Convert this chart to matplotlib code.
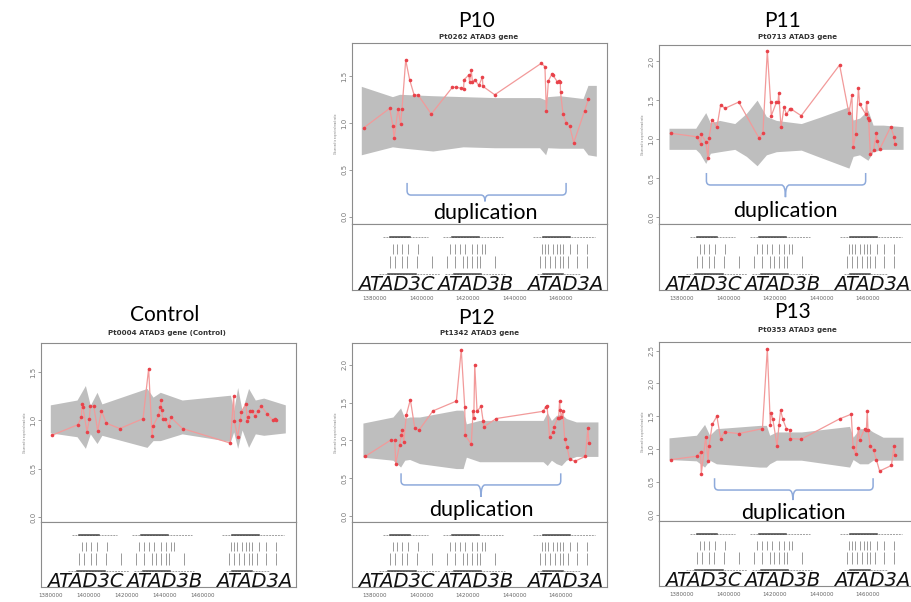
import numpy as np
import matplotlib.pyplot as plt
from matplotlib.path import Path
from matplotlib.patches import PathPatch
from matplotlib.transforms import blended_transform_factory

# genomic positions are in kb
p10_x = [1375.3, 1386.3, 1387.7, 1388.2, 1389.9, 1391.0, 1391.6, 1393.2, 1394.9, 1396.8, 1398.6, 1404.2,
         1413.3, 1414.7, 1417.1, 1418.1, 1418.3, 1420.3, 1420.7, 1421.4, 1421.9, 1422.9, 1424.7, 1426.2,
         1426.4, 1431.5, 1451.5, 1453.1, 1453.7, 1454.6, 1456.1, 1456.5, 1458.4, 1459.0, 1459.7, 1459.8,
         1460.9, 1462.3, 1463.7, 1465.5, 1470.2, 1471.8]
p10_y = [0.95, 1.155, 0.967, 0.835, 1.148, 0.99, 1.145, 1.67, 1.46, 1.30, 1.295, 1.095,
         1.38, 1.38, 1.37, 1.36, 1.46, 1.51, 1.44, 1.56, 1.44, 1.46, 1.40, 1.49,
         1.39, 1.30, 1.635, 1.60, 1.13, 1.45, 1.52, 1.51, 1.44, 1.45, 1.44, 1.33,
         1.09, 1.00, 0.967, 0.79, 1.13, 1.255]
p10_band_x = [1374.1, 1387.5, 1390.6, 1404.9, 1417.9, 1431.5, 1450.8, 1453.4, 1454.3, 1459.4, 1469.5, 1471.6, 1475.2]
p10_band_hi = [1.39, 1.28, 1.305, 1.29, 1.28, 1.27, 1.27, 1.245, 1.28, 1.29, 1.26, 1.40, 1.40]
p10_band_lo = [0.66, 0.745, 0.735, 0.70, 0.745, 0.735, 0.735, 0.66, 0.735, 0.73, 0.73, 0.66, 0.645]

p11_x = [1375.4, 1386.6, 1388.0, 1388.3, 1390.2, 1391.2, 1391.6, 1393.0, 1395.0, 1396.6, 1398.5, 1404.4,
         1413.1, 1414.8, 1416.7, 1418.1, 1418.4, 1420.6, 1421.3, 1421.6, 1422.6, 1423.9, 1424.9, 1426.3,
         1426.7, 1431.3, 1447.8, 1451.8, 1453.1, 1453.6, 1454.7, 1455.9, 1456.4, 1459.0, 1459.4, 1459.9,
         1460.3, 1461.0, 1462.4, 1463.6, 1463.8, 1465.0, 1469.8, 1471.2, 1471.5]
p11_y = [1.075, 1.03, 0.94, 1.06, 0.97, 0.755, 1.02, 1.25, 1.15, 1.44, 1.395, 1.475,
         1.015, 1.075, 2.13, 1.48, 1.30, 1.47, 1.47, 1.59, 1.15, 1.41, 1.32, 1.38,
         1.39, 1.30, 1.95, 1.33, 1.565, 0.90, 1.065, 1.66, 1.45, 1.32, 1.48, 1.27,
         1.24, 0.81, 0.86, 1.08, 0.98, 0.87, 1.16, 1.03, 0.94]
p11_band_x = [1374.4, 1385.9, 1387.6, 1390.2, 1392.2, 1396.2, 1402.7, 1407.7, 1412.3, 1416.3, 1420.6,
              1431.3, 1439.2, 1451.8, 1453.6, 1456.4, 1460.0, 1462.2, 1466.5, 1475.1]
p11_band_hi = [1.14, 1.14, 1.22, 1.34, 1.21, 1.24, 1.20, 1.33, 1.50, 1.29, 1.24,
               1.20, 1.28, 1.415, 1.245, 1.27, 1.37, 1.18, 1.18, 1.16]
p11_band_lo = [0.87, 0.87, 0.82, 0.69, 0.82, 0.84, 0.87, 0.78, 0.66, 0.80, 0.84,
               0.86, 0.77, 0.63, 0.78, 0.80, 0.73, 0.84, 0.87, 0.87]

ctrl_x = [1374.8, 1386.0, 1387.5, 1387.7, 1388.1, 1389.9, 1390.9, 1391.3, 1392.8, 1394.5, 1396.1, 1398.2,
          1404.0, 1414.0, 1416.4, 1417.9, 1418.3, 1420.6, 1421.4, 1421.7, 1422.0, 1422.4, 1423.5, 1425.0,
          1426.0, 1431.0, 1451.5, 1453.0, 1453.3, 1454.7, 1455.9, 1456.2, 1458.3, 1458.8, 1459.2, 1460.2,
          1460.9, 1462.3, 1463.3, 1464.9, 1467.3, 1469.8, 1470.9, 1471.2]
ctrl_y = [0.845, 0.955, 1.035, 1.165, 1.14, 0.88, 1.017, 1.145, 1.145, 0.89, 1.10, 0.97,
          0.915, 1.017, 1.535, 0.835, 0.94, 1.05, 1.14, 1.21, 1.11, 1.017, 1.017, 0.94,
          1.03, 0.915, 0.765, 1.25, 0.99, 0.83, 1.007, 1.085, 1.17, 0.99, 1.03, 1.095,
          1.095, 1.04, 1.095, 1.145, 1.07, 1.00, 1.017, 1.007]
ctrl_band_x = [1374.1, 1385.6, 1389.2, 1391.3, 1394.2, 1396.3, 1415.7, 1418.3, 1421.4, 1430.8, 1451.6,
               1453.0, 1454.7, 1456.6, 1459.4, 1462.3, 1465.9, 1475.2]
ctrl_band_hi = [1.16, 1.21, 1.36, 1.155, 1.29, 1.17, 1.33, 1.24, 1.29, 1.21, 1.26,
                1.10, 1.34, 1.10, 1.33, 1.21, 1.23, 1.16]
ctrl_band_lo = [0.87, 0.83, 0.71, 0.86, 0.76, 0.845, 0.72, 0.79, 0.79, 0.86, 0.78,
                0.88, 0.71, 0.90, 0.72, 0.86, 0.845, 0.87]

p12_x = [1375.8, 1387.0, 1388.5, 1388.9, 1390.6, 1391.3, 1391.8, 1392.3, 1393.5, 1395.2, 1397.1, 1398.9,
         1404.9, 1415.0, 1417.1, 1418.6, 1418.8, 1421.4, 1422.2, 1422.5, 1422.9, 1423.9, 1425.6, 1426.5,
         1426.8, 1432.2, 1452.3, 1453.4, 1454.0, 1455.1, 1456.6, 1457.0, 1458.7, 1459.0, 1459.4, 1459.7,
         1460.1, 1460.8, 1461.6, 1462.6, 1463.7, 1465.9, 1470.5, 1471.6, 1472.0]
p12_y = [0.79, 1.01, 1.00, 0.695, 0.945, 1.07, 1.14, 0.98, 1.34, 1.54, 1.165, 1.135,
         1.39, 1.52, 2.20, 1.44, 1.07, 0.95, 1.39, 1.30, 2.00, 1.385, 1.45, 1.26,
         1.18, 1.29, 1.385, 1.44, 1.46, 1.045, 1.11, 1.18, 1.30, 1.30, 1.52, 1.40,
         1.31, 1.385, 1.02, 0.915, 0.76, 0.725, 0.79, 1.165, 0.97]
p12_band_x = [1374.8, 1387.7, 1391.0, 1392.8, 1394.9, 1399.2, 1415.0, 1417.9, 1419.3, 1425.0, 1452.3,
              1454.1, 1455.9, 1458.0, 1460.2, 1462.3, 1466.6, 1475.9]
p12_band_hi = [1.23, 1.31, 1.43, 1.29, 1.31, 1.31, 1.40, 1.40, 1.22, 1.265, 1.265,
               1.37, 1.265, 1.33, 1.35, 1.29, 1.245, 1.245]
p12_band_lo = [0.78, 0.74, 0.65, 0.74, 0.75, 0.695, 0.63, 0.63, 0.78, 0.72, 0.72,
               0.67, 0.74, 0.695, 0.67, 0.74, 0.79, 0.79]

p13_x = [1375.4, 1386.4, 1388.0, 1388.3, 1390.2, 1391.2, 1391.6, 1393.0, 1395.0, 1396.6, 1398.3, 1404.4,
         1414.6, 1416.7, 1418.0, 1418.4, 1419.1, 1420.9, 1421.7, 1422.4, 1423.4, 1424.9, 1426.3, 1426.6,
         1431.3, 1447.8, 1452.8, 1453.6, 1454.7, 1455.9, 1456.4, 1458.6, 1459.3, 1459.7, 1460.0, 1461.0,
         1462.4, 1463.6, 1465.0, 1470.1, 1471.2, 1471.5]
p13_y = [0.84, 0.89, 0.955, 0.625, 1.18, 0.82, 1.04, 1.375, 1.50, 1.16, 1.26, 1.235,
         1.31, 2.53, 1.37, 1.55, 1.45, 1.045, 1.36, 1.59, 1.45, 1.31, 1.295, 1.16,
         1.15, 1.46, 1.53, 1.03, 0.92, 1.32, 1.13, 1.31, 1.295, 1.58, 1.285, 1.045,
         0.98, 0.84, 0.665, 0.75, 1.045, 0.905]
p13_band_x = [1374.4, 1386.2, 1389.7, 1391.9, 1394.8, 1413.4, 1416.3, 1417.7, 1420.6, 1431.3, 1452.1,
              1453.6, 1456.4, 1460.0, 1462.2, 1466.5, 1475.1]
p13_band_hi = [1.17, 1.21, 1.375, 1.21, 1.31, 1.36, 1.36, 1.21, 1.26, 1.26, 1.345,
               1.18, 1.31, 1.31, 1.26, 1.18, 1.18]
p13_band_lo = [0.84, 0.82, 0.725, 0.83, 0.775, 0.725, 0.725, 0.775, 0.83, 0.83, 0.725,
               0.84, 0.775, 0.775, 0.83, 0.83, 0.83]

# gene track (kb)
gene_names = ["ATAD3C", "ATAD3B", "ATAD3A"]
gene_label_x = [1389.0, 1423.2, 1462.0]
transcript_row1 = [(1383.6, 1402.9), (1409.4, 1435.2), (1448.1, 1474.6)]
transcript_row2 = [(1381.8, 1408.0), (1410.1, 1435.9), (1449.6, 1468.2)]
exon_row_a = [1387.9, 1389.3, 1391.5, 1394.3, 1398.6, 1412.3, 1414.4, 1416.6, 1418.7, 1421.6, 1423.7,
              1425.9, 1427.3, 1451.7, 1453.1, 1454.5, 1456.7, 1458.2, 1459.6, 1461.0, 1463.9, 1466.8, 1471.1]
exon_row_b = [1386.4, 1388.6, 1391.5, 1393.6, 1397.9, 1404.4, 1410.8, 1414.4, 1418.0, 1419.4, 1421.6,
              1423.7, 1425.2, 1431.6, 1451.0, 1453.1, 1455.3, 1457.4, 1459.6, 1461.0, 1463.2, 1466.8, 1471.1]
coord_ticks = [1380, 1400, 1420, 1440, 1460]

W, H = 911, 602
fig = plt.figure(figsize=(W / 100, H / 100), dpi=100)

BAND = "#bebebe"
FRAME = "#8c8c8c"
BRACE = "#8eaadb"
XLIM = (1370.1, 1479.8)


def brace(ax, x0, x1, xc, yt, ym, yb):
    tr = blended_transform_factory(ax.transData, ax.transAxes)
    rx = (x1 - x0) * 0.025
    ry = (yt - ym) * 0.35
    verts = [(x0, yt), (x0, ym + ry), (x0, ym), (x0 + rx, ym), (xc - rx, ym), (xc, ym), (xc, yb),
             (xc, yb), (xc, ym), (xc + rx, ym), (x1 - rx, ym), (x1, ym), (x1, ym + ry), (x1, yt)]
    codes = [Path.MOVETO, Path.LINETO, Path.CURVE3, Path.CURVE3, Path.LINETO, Path.CURVE3, Path.CURVE3,
             Path.MOVETO, Path.CURVE3, Path.CURVE3, Path.LINETO, Path.CURVE3, Path.CURVE3, Path.LINETO]
    ax.add_patch(PathPatch(Path(verts, codes), transform=tr, fill=False, ec=BRACE, lw=1.1, clip_on=False))


def panel(left, top, div, bottom, xs, ys, bx, blo, bhi, ylim, yticks, big, sub, big_xy, sub_xy,
          dup=None, tick_xlim=XLIM):
    wpx = 255
    ax = fig.add_axes([left / W, 1 - div / H, wpx / W, (div - top) / H])
    ax.fill_between(bx, blo, bhi, color=BAND, lw=0)
    ax.plot(xs, ys, color="#f29a9a", lw=0.9, zorder=3)
    ax.plot(xs, ys, "o", color="#e8424a", ms=2.6, mew=0, zorder=4)
    ax.set_xlim(*XLIM)
    ax.set_ylim(*ylim)
    ax.set_xticks([])
    ax.set_yticks(yticks)
    ax.set_yticklabels([f"{v:.1f}" for v in yticks], rotation=90, va="center")
    ax.tick_params(axis="y", labelsize=5, colors="#777777", length=2, pad=1.5, width=0.5)
    ax.set_ylabel("Observed to expected read ratio", fontsize=1.8, color="#777777", labelpad=2)
    for s in ax.spines.values():
        s.set_color(FRAME)
        s.set_linewidth(0.8)

    low = fig.add_axes([left / W, 1 - bottom / H, wpx / W, (bottom - div) / H])
    low.set_xlim(*XLIM)
    low.set_ylim(0, 1)
    low.set_xticks([])
    low.set_yticks([])
    for s in low.spines.values():
        s.set_color(FRAME)
        s.set_linewidth(0.8)
    for (a, b), yy in [(r, 0.80) for r in transcript_row1] + [(r, 0.24) for r in transcript_row2]:
        low.plot([a, b], [yy, yy], color="#a0a0a0", lw=0.7, ls=(0, (2, 1)))
        low.plot([a + (b - a) * 0.15, a + (b - a) * 0.6], [yy, yy], color="#444444", lw=1.1)
    low.vlines(exon_row_a, 0.55, 0.70, color="#9a9a9a", lw=0.7)
    low.vlines(exon_row_b, 0.34, 0.52, color="#9a9a9a", lw=0.7)
    for name, gx in zip(gene_names, gene_label_x):
        low.text(gx, 0.0, name, ha="center", va="baseline", fontsize=14, style="italic",
                 family="DejaVu Sans", color="#111111", clip_on=False)

    tk = fig.add_axes([left / W, 1 - bottom / H, wpx / W, (bottom - div) / H], frameon=False)
    tk.set_xlim(*tick_xlim)
    tk.set_yticks([])
    tk.set_xticks(coord_ticks)
    tk.set_xticklabels([f"{v * 1000:d}" for v in coord_ticks])
    tk.tick_params(axis="x", labelsize=4, colors="#666666", length=0, pad=4)
    tk.patch.set_alpha(0)

    fig.text(big_xy[0] / W, 1 - big_xy[1] / H, big, ha="center", va="center", fontsize=15, family="Lato")
    fig.text(sub_xy[0] / W, 1 - sub_xy[1] / H, sub, ha="center", va="center", fontsize=5.1,
             weight="bold", color="#333333")

    if dup is not None:
        x0, x1, xc, yt, ym, yb, ytext = dup
        brace(ax, x0, x1, xc, yt, ym, yb)
        ax.text(xc, ytext, "duplication", transform=blended_transform_factory(ax.transData, ax.transAxes),
                ha="center", va="center", fontsize=15.5, family="Lato", clip_on=False, zorder=6)


panel(352, 43, 224, 290, p10_x, p10_y, p10_band_x, p10_band_lo, p10_band_hi,
      (-0.078, 1.852), [0.0, 0.5, 1.0, 1.5], "P10", "Pt0262 ATAD3 gene", (477, 21), (479, 37),
      dup=(1393.8, 1462.2, 1427.3, 0.227, 0.16, 0.125, 0.06))
panel(659, 45, 224, 290, p11_x, p11_y, p11_band_x, p11_band_lo, p11_band_hi,
      (-0.085, 2.205), [0.0, 0.5, 1.0, 1.5, 2.0], "P11", "Pt0713 ATAD3 gene", (783, 21), (797, 37),
      dup=(1390.5, 1459.0, 1424.5, 0.285, 0.218, 0.15, 0.073))
panel(41, 343, 522, 587, ctrl_x, ctrl_y, ctrl_band_x, ctrl_band_lo, ctrl_band_hi,
      (-0.052, 1.80), [0.0, 0.5, 1.0, 1.5], "Control", "Pt0004 ATAD3 gene (Control)", (165, 315), (167, 333),
      tick_xlim=(1375.1, 1508.8))
panel(352, 343, 522, 587, p12_x, p12_y, p12_band_x, p12_band_lo, p12_band_hi,
      (-0.075, 2.286), [0.0, 0.5, 1.0, 1.5, 2.0], "P12", "Pt1342 ATAD3 gene", (477, 318), (479, 333),
      dup=(1391.2, 1459.9, 1425.6, 0.272, 0.207, 0.141, 0.067))
panel(659, 342, 521, 586, p13_x, p13_y, p13_band_x, p13_band_lo, p13_band_hi,
      (-0.096, 2.63), [0.0, 0.5, 1.0, 1.5, 2.0, 2.5], "P13", "Pt0353 ATAD3 gene", (793, 312), (797, 330),
      dup=(1394.0, 1462.2, 1427.7, 0.239, 0.173, 0.117, 0.043))

fig.savefig("out.png", dpi=100)
